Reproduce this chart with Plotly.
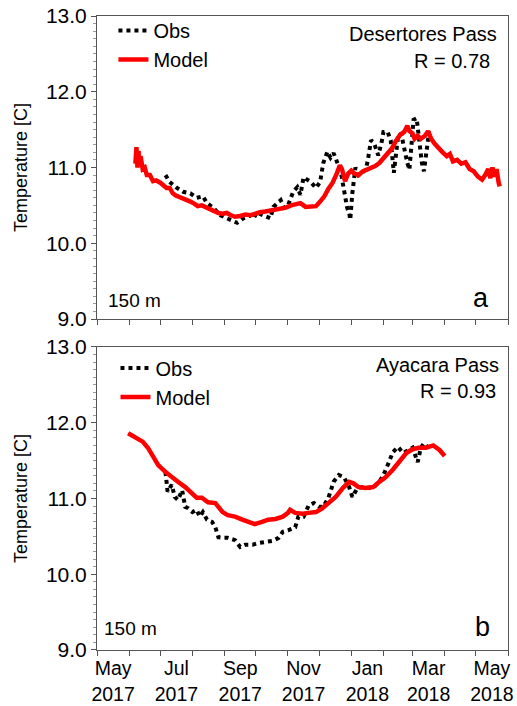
import pandas as pd
import plotly.graph_objects as go

# ---------------- data ----------------
top_model_dates = ["2017-06-07", "2017-06-08", "2017-06-09", "2017-06-10", "2017-06-11", "2017-06-12",
                   "2017-06-14", "2017-06-16", "2017-06-18", "2017-06-21", "2017-06-24", "2017-06-27",
                   "2017-07-01", "2017-07-04", "2017-07-07", "2017-07-10", "2017-07-13", "2017-07-16",
                   "2017-07-20", "2017-07-23", "2017-07-26", "2017-07-30", "2017-08-03", "2017-08-06",
                   "2017-08-10", "2017-08-13", "2017-08-18", "2017-08-22", "2017-08-26", "2017-08-30",
                   "2017-09-03", "2017-09-07", "2017-09-11", "2017-09-16", "2017-09-21", "2017-09-26",
                   "2017-10-01", "2017-10-05", "2017-10-10", "2017-10-15", "2017-10-20", "2017-10-25",
                   "2017-10-30", "2017-11-04", "2017-11-09", "2017-11-13", "2017-11-18", "2017-11-23",
                   "2017-11-28", "2017-12-02", "2017-12-06", "2017-12-10", "2017-12-14", "2017-12-18",
                   "2017-12-21", "2017-12-23", "2017-12-26", "2017-12-29", "2018-01-01", "2018-01-04",
                   "2018-01-08", "2018-01-12", "2018-01-16", "2018-01-20", "2018-01-24", "2018-01-28",
                   "2018-02-01", "2018-02-05", "2018-02-09", "2018-02-13", "2018-02-17", "2018-02-21",
                   "2018-02-24", "2018-02-26", "2018-03-01", "2018-03-03", "2018-03-06", "2018-03-09",
                   "2018-03-13", "2018-03-16", "2018-03-19", "2018-03-22", "2018-03-26", "2018-03-30",
                   "2018-04-03", "2018-04-06", "2018-04-09", "2018-04-13", "2018-04-17", "2018-04-21",
                   "2018-04-25", "2018-04-29", "2018-05-03", "2018-05-07", "2018-05-10", "2018-05-13",
                   "2018-05-15", "2018-05-17", "2018-05-19", "2018-05-21", "2018-05-23", "2018-05-24"]
top_model_vals = [11.05, 11.27, 11.00, 11.22, 11.02, 11.15,
                  10.98, 11.00, 10.90, 10.90, 10.82, 10.83,
                  10.80, 10.77, 10.73, 10.73, 10.66, 10.63,
                  10.61, 10.58, 10.57, 10.55, 10.52, 10.49,
                  10.50, 10.48, 10.46, 10.42, 10.40, 10.39,
                  10.40, 10.37, 10.35, 10.36, 10.38, 10.37,
                  10.40, 10.41, 10.42, 10.43, 10.44, 10.46,
                  10.47, 10.50, 10.51, 10.53, 10.48, 10.48,
                  10.49, 10.55, 10.62, 10.72, 10.80, 10.92,
                  11.03, 10.98, 10.82, 10.92, 10.96, 10.92,
                  10.90, 10.95, 10.97, 10.99, 11.02, 11.06,
                  11.12, 11.18, 11.25, 11.35, 11.43, 11.47,
                  11.55, 11.48, 11.45, 11.38, 11.42, 11.38,
                  11.42, 11.48, 11.38, 11.32, 11.25, 11.20,
                  11.15, 11.18, 11.08, 11.10, 11.05, 11.07,
                  10.98, 10.95, 10.88, 10.84, 10.90, 10.98,
                  10.86, 11.00, 10.88, 10.98, 10.80, 10.75]

top_obs_dates = ["2017-07-06", "2017-07-10", "2017-07-17", "2017-07-23", "2017-07-30", "2017-08-05",
                 "2017-08-11", "2017-08-15", "2017-08-21", "2017-08-28", "2017-09-03", "2017-09-09",
                 "2017-09-13", "2017-09-19", "2017-09-26", "2017-09-29", "2017-10-02", "2017-10-08",
                 "2017-10-15", "2017-10-18", "2017-10-25", "2017-10-28", "2017-11-01", "2017-11-06",
                 "2017-11-10", "2017-11-13", "2017-11-16", "2017-11-23", "2017-11-28", "2017-12-02",
                 "2017-12-05", "2017-12-09", "2017-12-12", "2017-12-15", "2017-12-19", "2017-12-22",
                 "2017-12-25", "2017-12-28", "2017-12-30", "2017-12-31", "2018-01-02", "2018-01-05",
                 "2018-01-08", "2018-01-12", "2018-01-15", "2018-01-17", "2018-01-20", "2018-01-23",
                 "2018-01-27", "2018-01-30", "2018-02-01", "2018-02-05", "2018-02-08", "2018-02-11",
                 "2018-02-13", "2018-02-15", "2018-02-18", "2018-02-21", "2018-02-24", "2018-02-26",
                 "2018-02-28", "2018-03-02", "2018-03-05", "2018-03-07", "2018-03-10", "2018-03-12",
                 "2018-03-15", "2018-03-17"]
top_obs_vals = [10.90, 10.81, 10.73, 10.68, 10.66, 10.60,
                10.62, 10.53, 10.47, 10.37, 10.33, 10.29,
                10.27, 10.33, 10.37, 10.33, 10.41, 10.37,
                10.33, 10.48, 10.57, 10.47, 10.50, 10.68,
                10.74, 10.64, 10.87, 10.81, 10.73, 10.81,
                11.06, 11.21, 11.13, 11.19, 11.06, 10.94,
                10.70, 10.47, 10.40, 10.31, 10.66, 11.00,
                10.90, 10.94, 10.97, 11.10, 11.36, 11.32,
                11.16, 11.32, 11.47, 11.47, 11.36, 10.93,
                11.19, 11.40, 11.45, 11.23, 11.06, 10.97,
                11.36, 11.63, 11.65, 11.36, 11.06, 10.95,
                11.30, 11.48]

bot_model_dates = ["2017-05-31", "2017-06-07", "2017-06-14", "2017-06-19", "2017-06-24", "2017-06-29",
                   "2017-07-06", "2017-07-12", "2017-07-18", "2017-07-25", "2017-08-01", "2017-08-05",
                   "2017-08-10", "2017-08-16", "2017-08-23", "2017-08-30", "2017-09-04", "2017-09-11",
                   "2017-09-18", "2017-09-24", "2017-09-30", "2017-10-07", "2017-10-13", "2017-10-20",
                   "2017-10-27", "2017-11-01", "2017-11-03", "2017-11-08", "2017-11-15", "2017-11-21",
                   "2017-11-28", "2017-12-04", "2017-12-10", "2017-12-17", "2017-12-24", "2017-12-30",
                   "2018-01-03", "2018-01-08", "2018-01-15", "2018-01-22", "2018-01-28", "2018-02-03",
                   "2018-02-10", "2018-02-16", "2018-02-23", "2018-03-01", "2018-03-07", "2018-03-14",
                   "2018-03-21", "2018-03-27", "2018-04-01"]
bot_model_vals = [11.86, 11.81, 11.75, 11.67, 11.55, 11.44,
                  11.35, 11.28, 11.22, 11.15, 11.05, 11.01,
                  11.01, 10.95, 10.94, 10.82, 10.78, 10.76,
                  10.72, 10.69, 10.66, 10.69, 10.72, 10.73,
                  10.76, 10.81, 10.85, 10.81, 10.80, 10.81,
                  10.82, 10.87, 10.94, 11.02, 11.14, 11.22,
                  11.20, 11.15, 11.14, 11.15, 11.22, 11.28,
                  11.38, 11.48, 11.60, 11.65, 11.67, 11.67,
                  11.70, 11.64, 11.56]

bot_obs_dates = ["2017-07-06", "2017-07-07", "2017-07-08", "2017-07-12", "2017-07-15", "2017-07-18",
                 "2017-07-22", "2017-07-25", "2017-07-28", "2017-08-01", "2017-08-05", "2017-08-08",
                 "2017-08-11", "2017-08-15", "2017-08-20", "2017-08-23", "2017-08-26", "2017-08-31",
                 "2017-09-04", "2017-09-11", "2017-09-16", "2017-09-21", "2017-09-28", "2017-10-03",
                 "2017-10-10", "2017-10-17", "2017-10-23", "2017-10-27", "2017-11-01", "2017-11-08",
                 "2017-11-11", "2017-11-16", "2017-11-21", "2017-11-26", "2017-12-01", "2017-12-05",
                 "2017-12-10", "2017-12-15", "2017-12-20", "2017-12-25", "2017-12-30", "2018-01-02",
                 "2018-01-07", "2018-01-12", "2018-01-17", "2018-01-22", "2018-01-28", "2018-02-01",
                 "2018-02-06", "2018-02-10", "2018-02-15", "2018-02-20", "2018-02-25", "2018-03-01",
                 "2018-03-06", "2018-03-09", "2018-03-12", "2018-03-16"]
bot_obs_vals = [11.35, 11.20, 11.09, 11.18, 11.02, 10.98,
                11.11, 10.89, 10.87, 10.82, 10.85, 10.76,
                10.82, 10.72, 10.69, 10.62, 10.49, 10.48,
                10.48, 10.45, 10.36, 10.39, 10.39, 10.41,
                10.43, 10.44, 10.48, 10.56, 10.58, 10.62,
                10.76, 10.76, 10.91, 10.94, 10.89, 10.89,
                11.01, 11.22, 11.31, 11.28, 11.15, 11.02,
                11.14, 11.15, 11.14, 11.14, 11.22, 11.31,
                11.47, 11.61, 11.68, 11.60, 11.64, 11.67,
                11.48, 11.67, 11.73, 11.67]

y_ticks = [9, 10, 11, 12, 13]
month_starts = pd.date_range("2017-05-01", "2018-06-01", freq="MS")
label_months = pd.date_range("2017-05-01", "2018-05-01", freq="2MS")
label_text = [f"{d.strftime('%b')}<br>{d.year}" for d in label_months]
label_pos = [d + (d + pd.offsets.MonthBegin(1) - d) / 2 for d in label_months]

FONT = "Liberation Sans, Arial, sans-serif"
RED = "#ff0000"
AX = "#555555"

fig = go.Figure()
fig.add_trace(go.Scatter(x=top_obs_dates, y=top_obs_vals, mode="lines", name="Obs",
                         line=dict(color="black", width=4, dash="dot"), xaxis="x", yaxis="y",
                         legend="legend"))
fig.add_trace(go.Scatter(x=top_model_dates, y=top_model_vals, mode="lines", name="Model",
                         line=dict(color=RED, width=4.5), xaxis="x", yaxis="y", legend="legend"))
fig.add_trace(go.Scatter(x=bot_obs_dates, y=bot_obs_vals, mode="lines", name="Obs",
                         line=dict(color="black", width=4, dash="dot"), xaxis="x2", yaxis="y2",
                         legend="legend2"))
fig.add_trace(go.Scatter(x=bot_model_dates, y=bot_model_vals, mode="lines", name="Model",
                         line=dict(color=RED, width=4.5), xaxis="x2", yaxis="y2", legend="legend2"))

xcommon = dict(range=["2017-05-01", "2018-06-01"], type="date", showline=True, mirror=True,
               linecolor=AX, linewidth=1, showgrid=False, zeroline=False, automargin=False,
               tickmode="array", tickvals=label_pos, ticktext=label_text, ticks="",
               tickfont=dict(family=FONT, size=19.5, color="black"),
               minor=dict(tickmode="array", tickvals=list(month_starts), ticks="outside",
                          ticklen=5, tickcolor=AX, tickwidth=1, showgrid=False))
ycommon = dict(range=[9, 13], showline=True, mirror=True, linecolor=AX, linewidth=1,
               showgrid=False, zeroline=False, automargin=False, tickmode="array", tickvals=y_ticks,
               ticktext=[f"{v:.1f}" for v in y_ticks], ticks="outside", ticklen=5,
               tickcolor=AX, tickfont=dict(family=FONT, size=21, color="black"),
               minor=dict(dtick=0.1, ticks="outside", ticklen=3, tickcolor="#999999",
                          showgrid=False),
               title=dict(text="Temperature [C]", font=dict(family=FONT, size=18, color="black"),
                          standoff=13))

fig.update_layout(
    width=517, height=706,
    margin=dict(l=97, r=9, t=16, b=56),
    paper_bgcolor="white", plot_bgcolor="white",
    xaxis=dict(xcommon, domain=[0, 1], anchor="y", showticklabels=False),
    yaxis=dict(ycommon, domain=[0.522, 1], anchor="x"),
    xaxis2=dict(xcommon, domain=[0, 1], anchor="y2", matches="x", showticklabels=True,
                ticklabelstandoff=1),
    yaxis2=dict(ycommon, domain=[0, 0.478], anchor="x2"),
    legend=dict(x=0.04, y=1.008, xanchor="left", yanchor="top", bgcolor="rgba(0,0,0,0)",
                font=dict(family=FONT, size=20, color="black"), tracegroupgap=0, itemwidth=30),
    legend2=dict(x=0.045, y=0.4755, xanchor="left", yanchor="top", bgcolor="rgba(0,0,0,0)",
                 font=dict(family=FONT, size=20, color="black"), tracegroupgap=0, itemwidth=30),
    showlegend=True,
)

ann_font = dict(family=FONT, size=20, color="black")
anns = [
    dict(text="Desertores Pass", xref="x domain", yref="y domain", x=0.978, y=0.94, xanchor="right", yanchor="middle", font=ann_font),
    dict(text="R = 0.78", xref="x domain", yref="y domain", x=0.96, y=0.85, xanchor="right", yanchor="middle", font=ann_font),
    dict(text="150 m", xref="x domain", yref="y domain", x=0.022, y=0.06, xanchor="left", yanchor="middle", font=dict(ann_font, size=19)),
    dict(text="a", xref="x domain", yref="y domain", x=0.958, y=0.07, xanchor="right", yanchor="middle", font=dict(ann_font, size=27)),
    dict(text="Ayacara Pass", xref="x2 domain", yref="y2 domain", x=0.982, y=0.94, xanchor="right", yanchor="middle", font=ann_font),
    dict(text="R = 0.93", xref="x2 domain", yref="y2 domain", x=0.975, y=0.855, xanchor="right", yanchor="middle", font=ann_font),
    dict(text="150 m", xref="x2 domain", yref="y2 domain", x=0.012, y=0.07, xanchor="left", yanchor="middle", font=dict(ann_font, size=19)),
    dict(text="b", xref="x2 domain", yref="y2 domain", x=0.962, y=0.075, xanchor="right", yanchor="middle", font=dict(ann_font, size=27)),
]
for a in anns:
    a["showarrow"] = False
    fig.add_annotation(**a)

fig.write_html("out.html")
